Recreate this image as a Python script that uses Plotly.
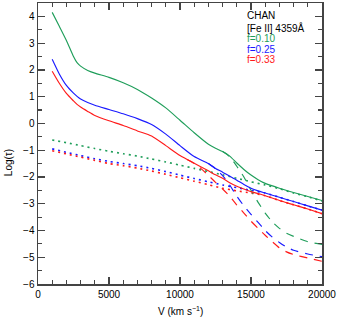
import plotly.graph_objects as go

# ---- data ----
V = [1000, 1500, 2000, 2500, 2750, 3000, 3500, 4000, 5000, 6000, 7000, 8000, 9000, 10000,
     11000, 12000, 12500, 13000, 13500, 14000, 14500, 15000, 15500, 16000, 17000,
     18000, 19000, 20000]
green_solid = [4.15, 3.63, 3.10, 2.50, 2.27, 2.14, 1.98, 1.88, 1.72, 1.52, 1.27, 0.95, 0.58, 0.12,
               -0.35, -0.78, -0.93, -1.05, -1.22, -1.48, -1.72, -1.93, -2.10, -2.24, -2.42,
               -2.58, -2.73, -2.88]
blue_solid = [2.40, 1.85, 1.42, 1.13, 1.01, 0.91, 0.78, 0.68, 0.52, 0.36, 0.18, -0.04, -0.40, -0.83,
              -1.24, -1.50, -1.68, -1.82, -1.97, -2.12, -2.28, -2.42, -2.52, -2.60, -2.76,
              -2.92, -3.08, -3.24]
red_solid = [1.95, 1.50, 1.12, 0.84, 0.71, 0.61, 0.45, 0.30, 0.10, -0.08, -0.28, -0.47, -0.83, -1.20,
             -1.49, -1.77, -1.92, -2.05, -2.22, -2.35, -2.45, -2.55, -2.62, -2.70, -2.88,
             -3.04, -3.20, -3.37]

V_green_dash = [13000, 13500, 14000, 14500, 15000, 15500, 16000, 16500, 17000, 17500, 18000, 19000, 20000]
green_dash = [-1.05, -1.24, -1.60, -2.00, -2.50, -2.95, -3.35, -3.68, -3.92, -4.10, -4.22, -4.42, -4.52]
V_blue_dash = [12000, 12500, 13000, 13500, 14000, 14500, 15000, 15500, 16000, 16500, 17000, 17500, 18000, 19000, 20000]
blue_dash = [-1.50, -1.70, -1.95, -2.30, -2.72, -3.08, -3.40, -3.70, -4.00, -4.25, -4.45, -4.62, -4.74, -4.88, -4.98]
V_red_dash = [10500, 11000, 11500, 12000, 12500, 13000, 13500, 14000, 14500, 15000, 15500, 16000, 16500, 17000, 17500, 18000, 19000, 20000]
red_dash = [-1.35, -1.49, -1.70, -1.94, -2.20, -2.45, -2.72, -3.05, -3.35, -3.65, -3.92, -4.18, -4.42, -4.65, -4.80, -4.90, -5.03, -5.15]

V_dot = [1000, 2000, 3000, 4000, 5000, 6000, 7000, 8000, 9000, 10000, 11000, 12000, 13000,
         14000, 15000, 16000, 17000, 18000, 19000, 20000]
green_dot = [-0.62, -0.72, -0.83, -0.94, -1.04, -1.13, -1.22, -1.33, -1.44, -1.56, -1.68, -1.80,
             -1.92, -2.05, -2.18, -2.30, -2.44, -2.60, -2.74, -2.90]
blue_dot = [-0.95, -1.08, -1.20, -1.32, -1.42, -1.50, -1.58, -1.68, -1.80, -1.93, -2.06, -2.18,
            -2.30, -2.40, -2.50, -2.60, -2.76, -2.92, -3.08, -3.24]
red_dot = [-1.02, -1.14, -1.26, -1.38, -1.50, -1.58, -1.67, -1.78, -1.90, -2.03, -2.16, -2.29,
           -2.42, -2.52, -2.60, -2.70, -2.88, -3.04, -3.20, -3.37]

x_ticks = [0, 5000, 10000, 15000, 20000]
x_ticklabels = ["0", "5000", "10000", "15000", "20000"]
y_ticks = [-6, -5, -4, -3, -2, -1, 0, 1, 2, 3, 4]
y_ticklabels = ["\u22126", "\u22125", "\u22124", "\u22123", "\u22122", "\u22121", "0", "1", "2", "3", "4"]
labels = ["f=0.10", "f=0.25", "f=0.33"]
GREEN, BLUE, RED = "#1f9e5a", "#1a1aff", "#ff1a1a"

fig = go.Figure()

def add(x, y, color, dash, width):
    fig.add_trace(go.Scatter(x=x, y=y, mode="lines",
                             line=dict(color=color, width=width, dash=dash,
                                       shape="spline", smoothing=0.6),
                             showlegend=False, hoverinfo="skip"))

for x, y, c in [(V_dot, green_dot, GREEN), (V_dot, blue_dot, BLUE), (V_dot, red_dot, RED)]:
    add(x, y, c, "2px,4px", 1.6)
for x, y, c in [(V_green_dash, green_dash, GREEN), (V_blue_dash, blue_dash, BLUE), (V_red_dash, red_dash, RED)]:
    add(x, y, c, "8px,7px", 1.15)
for y, c in [(green_solid, GREEN), (blue_solid, BLUE), (red_solid, RED)]:
    add(V, y, c, "solid", 1.15)

font = dict(family="Liberation Sans, Arial, sans-serif", size=10, color="black")
axcommon = dict(showgrid=False, zeroline=False, showline=True, linecolor="#444", linewidth=1.5,
                mirror="allticks", ticks="inside", tickcolor="#444", tickwidth=1.2,
                tickfont=font)
fig.update_xaxes(range=[0, 20000], tickvals=x_ticks, ticktext=x_ticklabels, ticklen=7,
                 minor=dict(dtick=1000, ticks="inside", ticklen=4, tickcolor="#444", tickwidth=1.2),
                 **axcommon)
fig.update_yaxes(range=[-6, 4.5], tickvals=y_ticks, ticktext=y_ticklabels, ticklen=7,
                 minor=dict(dtick=0.5, ticks="inside", ticklen=4, tickcolor="#444", tickwidth=1.2),
                 **axcommon)

ann = []
ann.append(dict(text="V (km s<sup>\u22121</sup>)", xref="paper", yref="paper", x=0.5, y=0,
                yshift=-27, xanchor="center", yanchor="middle", showarrow=False, font=font))
ann.append(dict(text="Log(\u03c4)", xref="paper", yref="paper", x=0, y=0.43, xshift=-30,
                xanchor="center", yanchor="middle", textangle=-90, showarrow=False, font=font))
texts = [("CHAN", "black", 4.05), ("[Fe II] 4359\u00c5", "black", 3.55),
         (labels[0], GREEN, 3.18), (labels[1], BLUE, 2.78), (labels[2], RED, 2.38)]
for t, c, yv in texts:
    ann.append(dict(text=t, x=14600, y=yv, xref="x", yref="y", xanchor="left", yanchor="middle",
                    showarrow=False, font=dict(family=font["family"], size=10, color=c)))
fig.update_layout(annotations=ann, width=337, height=319,
                  margin=dict(l=38, r=15, t=1, b=35),
                  paper_bgcolor="white", plot_bgcolor="white")
fig.write_html("out.html", config={"displayModeBar": False, "staticPlot": True},
               post_script="document.body.style.margin='0';")
